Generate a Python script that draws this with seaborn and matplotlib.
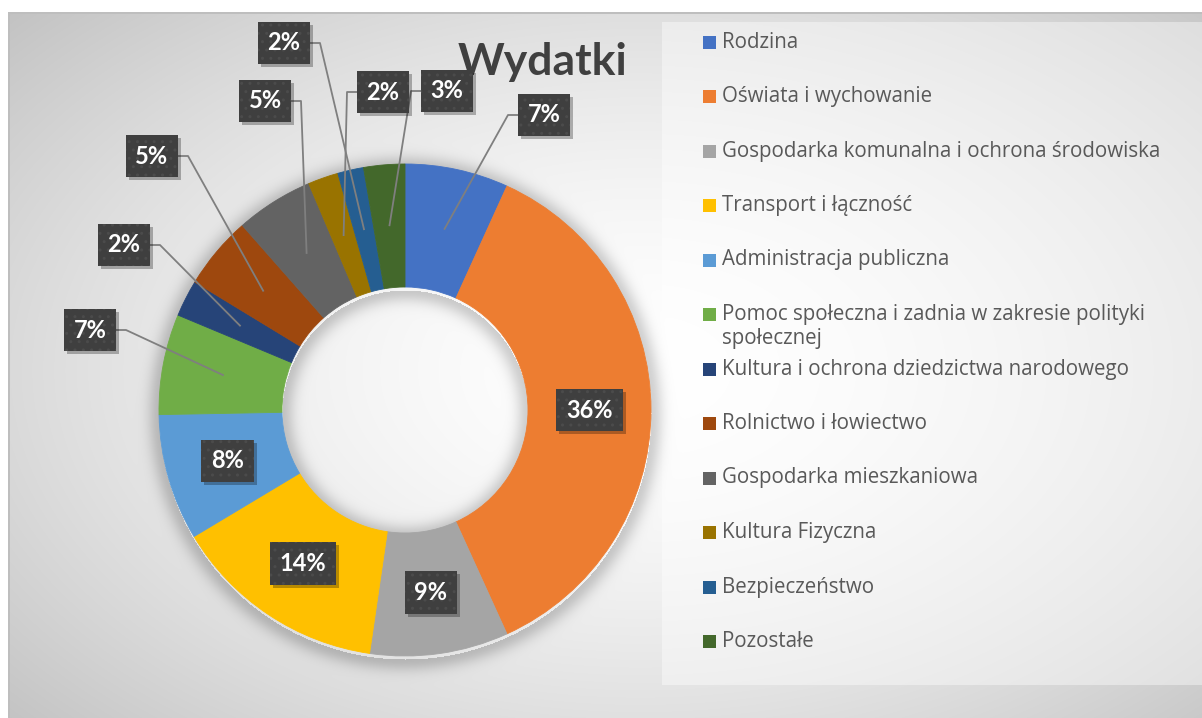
import numpy as np
import matplotlib.pyplot as plt
from matplotlib.patches import Rectangle
import seaborn as sns

sns.set_theme(style="white")
plt.rcParams['font.family'] = ['Lato', 'DejaVu Sans']

# Data
categories = ["Rodzina", "Oświata i wychowanie", "Gospodarka komunalna i ochrona środowiska",
              "Transport i łączność", "Administracja publiczna",
              "Pomoc społeczna i zadnia w zakresie polityki\nspołecznej",
              "Kultura i ochrona dziedzictwa narodowego", "Rolnictwo i łowiectwo",
              "Gospodarka mieszkaniowa", "Kultura Fizyczna", "Bezpieczeństwo", "Pozostałe"]
shares = [6.8, 36.4, 9.1, 14.1, 8.3, 6.6, 2.4, 4.8, 5.1, 2.0, 1.7, 2.7]
colors = ["#4472C4", "#ED7D31", "#A5A5A5", "#FFC000", "#5B9BD5", "#70AD47",
          "#264478", "#9E480E", "#636363", "#997300", "#255E91", "#43682B"]
palette = sns.color_palette(colors)

# label boxes pulled out of the ring (pixel centres), None = label inside the ring
label_px = [(544, 115), None, None, None, None, (90, 330), (124, 245), (152, 156),
            (265, 101), (383, 92), (284, 43), (447, 91)]

W, H = 1202, 718
CX, CY, R = 405, 410, 246
RI = R * 0.5


def px(x, y):
    return (x - CX) / R, (CY - y) / R


# background: radial grey gradient + soft shadow of the ring
yy, xx = np.mgrid[0:H, 0:W].astype(float)
d = np.sqrt(((xx - 640) / 760) ** 2 + ((yy - 370) / 470) ** 2)
v = 255 - 50 * np.clip(d, 0, 1.4) ** 1.6
leg = (xx >= 662) & (yy >= 22) & (yy <= 684)
v = np.where(leg, v + (255 - v) * 0.4, v)
r = np.sqrt((xx - CX) ** 2 + (yy - CY - 3) ** 2)
dist = np.where(r > R, r - R, np.where(r < RI, RI - r, 0))
v = v - 45 * np.exp(-(dist / 12) ** 2) * (dist > 0)
v = np.where((xx < 8) | (yy < 12), 255, v)
v = np.where(((xx >= 8) & (xx < 10) & (yy >= 12)) | ((yy >= 12) & (yy < 14) & (xx >= 8)), 190, v)
img = np.clip(np.dstack([v, v, v]) / 255, 0, 1)

fig = plt.figure(figsize=(W / 100, H / 100), dpi=100)
bg = fig.add_axes([0, 0, 1, 1])
bg.imshow(img, extent=(0, W, H, 0), interpolation='bilinear')
bg.set_xlim(0, W)
bg.set_ylim(H, 0)
bg.axis('off')

ax = fig.add_axes([0, 0, 1, 1])
ax.set_facecolor('none')
wedges, _ = ax.pie(shares, colors=palette, startangle=90, counterclock=False,
                   radius=1, wedgeprops=dict(width=0.5, linewidth=0.6))
for w in wedges:
    w.set_edgecolor(w.get_facecolor())
ax.set_xlim((0 - CX) / R, (W - CX) / R)
ax.set_ylim((CY - H) / R, CY / R)
ax.set_aspect('equal')
ax.set_autoscale_on(False)
ax.axis('off')

# data labels
labels = []
total = sum(shares)
cum = 0.0
for s, pos in zip(shares, label_px):
    theta = 2 * np.pi * (cum + s / 2) / total
    cum += s
    ax_, ay_ = 0.75 * np.sin(theta), 0.75 * np.cos(theta)
    if pos is None:
        bx, by = ax_, ay_
    else:
        bx, by = px(*pos)
        half = 25 / R
        side = -1 if bx > ax_ else 1
        ex = bx + side * half
        elb = ex + side * 11 / R
        ax.plot([ex, elb, ax_], [by, by, ay_], color='#7f7f7f', lw=1.3, zorder=3,
                solid_capstyle='butt')
    t = ax.text(bx, by, f"{round(s):.0f}%", ha='center', va='center', fontsize=17,
                fontweight='bold', color='white', zorder=5,
                bbox=dict(boxstyle='square,pad=0.42', fc='#3f3f3f', ec='#4b4b4b', lw=0,
                          hatch='..'))
    labels.append(t)

# drop shadows under the label boxes
fig.canvas.draw()
inv = ax.transData.inverted()
for t in labels:
    ext = t.get_bbox_patch().get_window_extent()
    (x0, y0), (x1, y1) = inv.transform([(ext.x0 + 3, ext.y0 - 3), (ext.x1 + 3, ext.y1 - 3)])
    ax.add_patch(Rectangle((x0, y0), x1 - x0, y1 - y0, facecolor='black', alpha=0.28,
                           edgecolor='none', zorder=4))

# title
bg.text(542, 75, "Wydatki", ha='center', va='baseline', fontsize=32,
        fontweight='bold', color='#404040')

# legend
for i, (name, c) in enumerate(zip(categories, palette)):
    y = 42 + i * 54.5
    bg.add_patch(Rectangle((703, y - 6.5), 13, 13, facecolor=c, edgecolor='none'))
    n = name.count('\n')
    bg.text(722, y + 12 * n, name, ha='left', va='center', fontsize=14.8,
            color='#595959', family=['Open Sans', 'DejaVu Sans'], linespacing=1.15)

fig.savefig('out.png', dpi=100)
